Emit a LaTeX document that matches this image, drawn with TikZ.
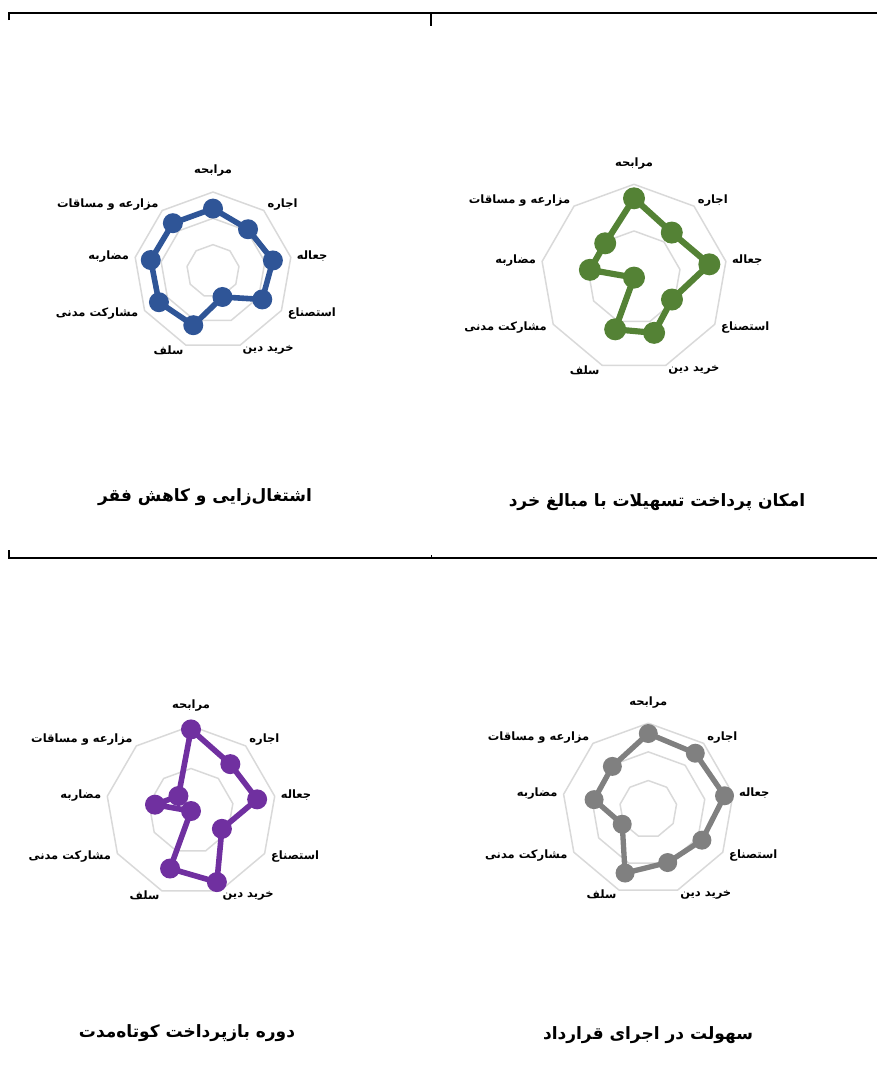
\documentclass[tikz,border=0pt]{standalone}
\usepackage{fontspec}
\newfontfamily\arabicfont[Script=Arabic]{DejaVu Sans}
\TeXXeTstate=1

\definecolor{radarblue}{HTML}{2F5597}
\definecolor{radargreen}{HTML}{548235}
\definecolor{radarpurple}{HTML}{7030A0}
\definecolor{radargrey}{HTML}{808080}

\tikzset{
  gridring/.style={draw=black!15, line width=1.5pt, line join=round},
  dataline/.style={draw=#1, line join=round},
  datadot/.style={circle, fill=#1, inner sep=0pt},
  axislabel/.style={font=\arabicfont\bfseries\fontsize{11.5}{13}\selectfont, inner sep=1pt},
  charttitle/.style={font=\arabicfont\bfseries\fontsize{17}{20}\selectfont, inner sep=0pt},
  framerule/.style={line width=2pt},
}

% name, centre, radius, rings, colour, dot size, values
\newcommand{\radarchart}[7]{%
\begin{scope}[shift={#2}]
  \foreach \f in {#4}
    \draw[gridring] (90:{\f*#3}) \foreach \k in {1,...,8}{ -- ({90-40*\k}:{\f*#3})} -- cycle;
  \foreach \v [count=\k from 0] in {#7}
    \coordinate (#1-p\k) at ({90-40*\k}:{\v*#3});
  \draw[dataline=#5, line width=0.28*#6pt] (#1-p0) \foreach \k in {1,...,8}{ -- (#1-p\k)} -- cycle;
  \foreach \k in {0,...,8}
    \node[datadot=#5, minimum size=#6pt] (#1-d\k) at (#1-p\k) {};
  \foreach \k/\anc/\gap/\dy/\txt in {0/south/14/0/مرابحه, 1/west/4/3/اجاره,
      2/west/5/0/جعاله, 3/west/6/0/استصناع, 4/west/4/-1/خرید دین,
      5/east/4/-1/سلف, 6/east/6/0/مشارکت مدنی, 7/east/5/0/مضاربه,
      8/east/4/3/مزارعه و مساقات}
    \node[axislabel, anchor=\anc, yshift=\dy pt] (#1-l\k) at ({90-40*\k}:{#3+\gap}) {\beginR\txt\endR};
\end{scope}}

\begin{document}
\begin{tikzpicture}[x=1pt, y=1pt]
\useasboundingbox (0,0) rectangle (877,-1085);

% frame rules
\draw[framerule] (9,-20) -- (9,-13) -- (877,-13);
\draw[line width=1.5pt] (431,-13) -- (431,-26);
\draw[framerule] (9,-550) -- (9,-558) -- (877,-558);
\draw[line width=0.8pt] (431,-555) -- (431,-557);

% charts
\radarchart{emp}{(213,-271)}{79}{1/3,2/3,1}{radarblue}{20}{0.79,0.69,0.77,0.72,0.35,0.73,0.79,0.80,0.79}
\radarchart{fin}{(634,-277.6)}{93.3}{0.5,1}{radargreen}{22}{0.85,0.63,0.82,0.47,0.63,0.59,0.0,0.48,0.48}
\radarchart{rep}{(191,-811)}{85}{0.5,1}{radarpurple}{20}{0.96,0.72,0.79,0.42,0.89,0.72,0.0,0.43,0.23}
\radarchart{eas}{(648.3,-809.2)}{86}{1/3,2/3,1}{radargrey}{19}{0.88,0.85,0.90,0.72,0.66,0.79,0.35,0.64,0.65}

% titles
\node[charttitle] (emptitle) at (205,-497) {\beginR اشتغال‌زایی و کاهش فقر\endR};
\node[charttitle] (fintitle) at (657,-502) {\beginR امکان پرداخت تسهیلات با مبالغ خرد\endR};
\node[charttitle] (reptitle) at (187,-1033) {\beginR دوره بازپرداخت کوتاه‌مدت\endR};
\node[charttitle] (eastitle) at (648,-1035) {\beginR سهولت در اجرای قرارداد\endR};
\end{tikzpicture}
\end{document}
